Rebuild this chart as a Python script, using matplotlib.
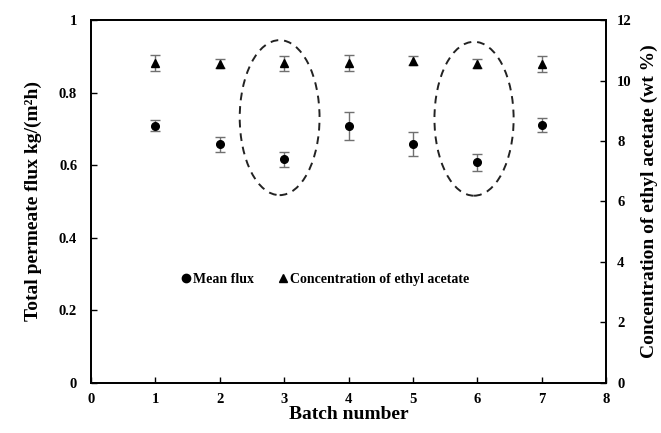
import matplotlib
matplotlib.use("Agg")
import matplotlib.pyplot as plt
from matplotlib.patches import Ellipse
from matplotlib.lines import Line2D

plt.rcParams['font.family'] = ['Liberation Serif', 'DejaVu Serif']
plt.rcParams['font.weight'] = 'bold'

batch = [1, 2, 3, 4, 5, 6, 7]
flux = [0.709, 0.658, 0.616, 0.708, 0.658, 0.608, 0.711]
flux_err = [0.015, 0.021, 0.021, 0.038, 0.033, 0.024, 0.019]
conc = [10.58, 10.55, 10.57, 10.58, 10.65, 10.55, 10.55]
conc_err = [0.25, 0.15, 0.25, 0.25, 0.15, 0.15, 0.26]

# dashed highlight ellipses (in flux-axis units)
ell_x = [2.93, 5.95]
ell_y = [0.731, 0.728]
ell_w = [1.24, 1.23]
ell_h = [0.427, 0.424]

fig = plt.figure(figsize=(6.61, 4.33), dpi=100)
ax = fig.add_axes([0.1377, 0.1155, 0.7791, 0.8383])
ax2 = ax.twinx()

ax.errorbar(batch, flux, yerr=flux_err, fmt='o', color='black', ms=5.5,
            ecolor='#707070', elinewidth=1.0, capsize=3.5, capthick=1.0)
ax2.errorbar(batch, conc, yerr=conc_err, fmt='^', color='black', ms=5.5,
             ecolor='#707070', elinewidth=1.0, capsize=3.5, capthick=1.0)

for x, y, w, h in zip(ell_x, ell_y, ell_w, ell_h):
    ax.add_patch(Ellipse((x, y), w, h, fill=False, ls=(0, (4, 3)), lw=1.4,
                         color='#222222'))

ax.set_xlim(0, 8)
ax.set_ylim(0, 1)
ax2.set_ylim(0, 12)
ax.set_xticks(range(0, 9))
ax.set_yticks([0, 0.2, 0.4, 0.6, 0.8, 1])
ax.set_yticklabels(['0', '0.2', '0.4', '0.6', '0.8', '1'])
ax2.set_yticks(range(0, 13, 2))

for a in (ax, ax2):
    a.tick_params(direction='in', length=4, width=1, labelsize=10.5)
    for s in a.spines.values():
        s.set_linewidth(1.3)
ax.tick_params(axis='x', pad=7)
ax.tick_params(axis='y', pad=10)
ax2.tick_params(axis='y', pad=8)

ax.set_xlabel('Batch number', fontsize=14, fontweight='bold', labelpad=0)
ax.set_ylabel('Total permeate flux kg/(m²h)', fontsize=14,
              fontweight='bold', labelpad=12)
ax2.set_ylabel('Concentration of ethyl acetate (wt %)', fontsize=14,
               fontweight='bold', labelpad=6)

handles = [Line2D([], [], ls='none', marker='o', color='black', ms=6),
           Line2D([], [], ls='none', marker='^', color='black', ms=6)]
ax2.legend(handles, ['Mean flux', 'Concentration of ethyl acetate'],
           loc='center', bbox_to_anchor=(0.452, 0.286), ncol=2, frameon=False,
           handletextpad=0.0, columnspacing=1.6, handlelength=1.0,
           prop={'size': 10, 'weight': 'bold'})

fig.savefig('out.png', dpi=100)
